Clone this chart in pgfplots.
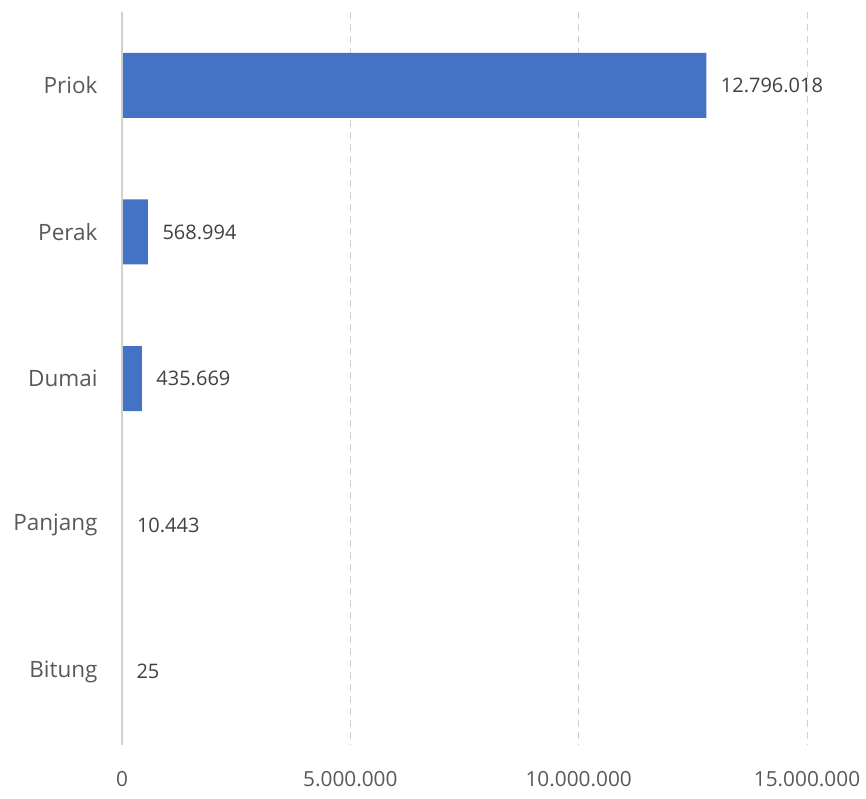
\documentclass[border=0pt]{standalone}
\usepackage{pgfplots}
\pgfplotsset{compat=1.18}
\usepackage{fontspec}
\setmainfont{Open Sans}
\definecolor{barblue}{HTML}{4472C4}
\definecolor{lblgray}{HTML}{595959}
\definecolor{datagray}{HTML}{404040}
\definecolor{gridgray}{HTML}{D0D0D0}
\begin{document}
\begin{tikzpicture}
\path[use as bounding box] (-122pt,-54pt) rectangle (744pt,745pt);
\begin{axis}[
  at={(0pt,0pt)}, anchor=south west,
  scale only axis,
  width=685pt, height=733pt,
  xbar, bar width=65pt,
  xmin=0, xmax=15000000,
  ymin=-0.5, ymax=4.5, y dir=reverse,
  ytick={0,1,2,3,4},
  yticklabels={Priok,Perak,Dumai,Panjang,Bitung},
  xtick={0,5000000,10000000,15000000},
  scaled x ticks=false,
  /pgf/number format/assume math mode=true,
  /pgf/number format/fixed,
  /pgf/number format/precision=0,
  /pgf/number format/1000 sep={.},
  xticklabel style={font=\fontsize{20.8}{24}\selectfont, text=lblgray},
  yticklabel style={font=\fontsize{22.5}{26}\selectfont, text=lblgray},
  major tick length=0pt,
  xtick pos=bottom, ytick pos=left,
  xticklabel shift=23pt,
  yticklabel shift=21pt,
  axis line style={draw=none},
  xmajorgrids, major grid style={gridgray, dash pattern=on 7pt off 5pt, line width=1pt},
  nodes near coords,
  nodes near coords style={font=\fontsize{20}{24}\selectfont, text=datagray, anchor=west, xshift=11pt},
  point meta=x,
  clip=false,
]
\addplot[fill=barblue, draw=none] coordinates {
  (12796018,0) (568994,1) (435669,2) (10443,3) (25,4)
};
\draw[gridgray, line width=1.5pt] (axis cs:0,-0.5) -- (axis cs:0,4.5);
\end{axis}
\end{tikzpicture}
\end{document}
